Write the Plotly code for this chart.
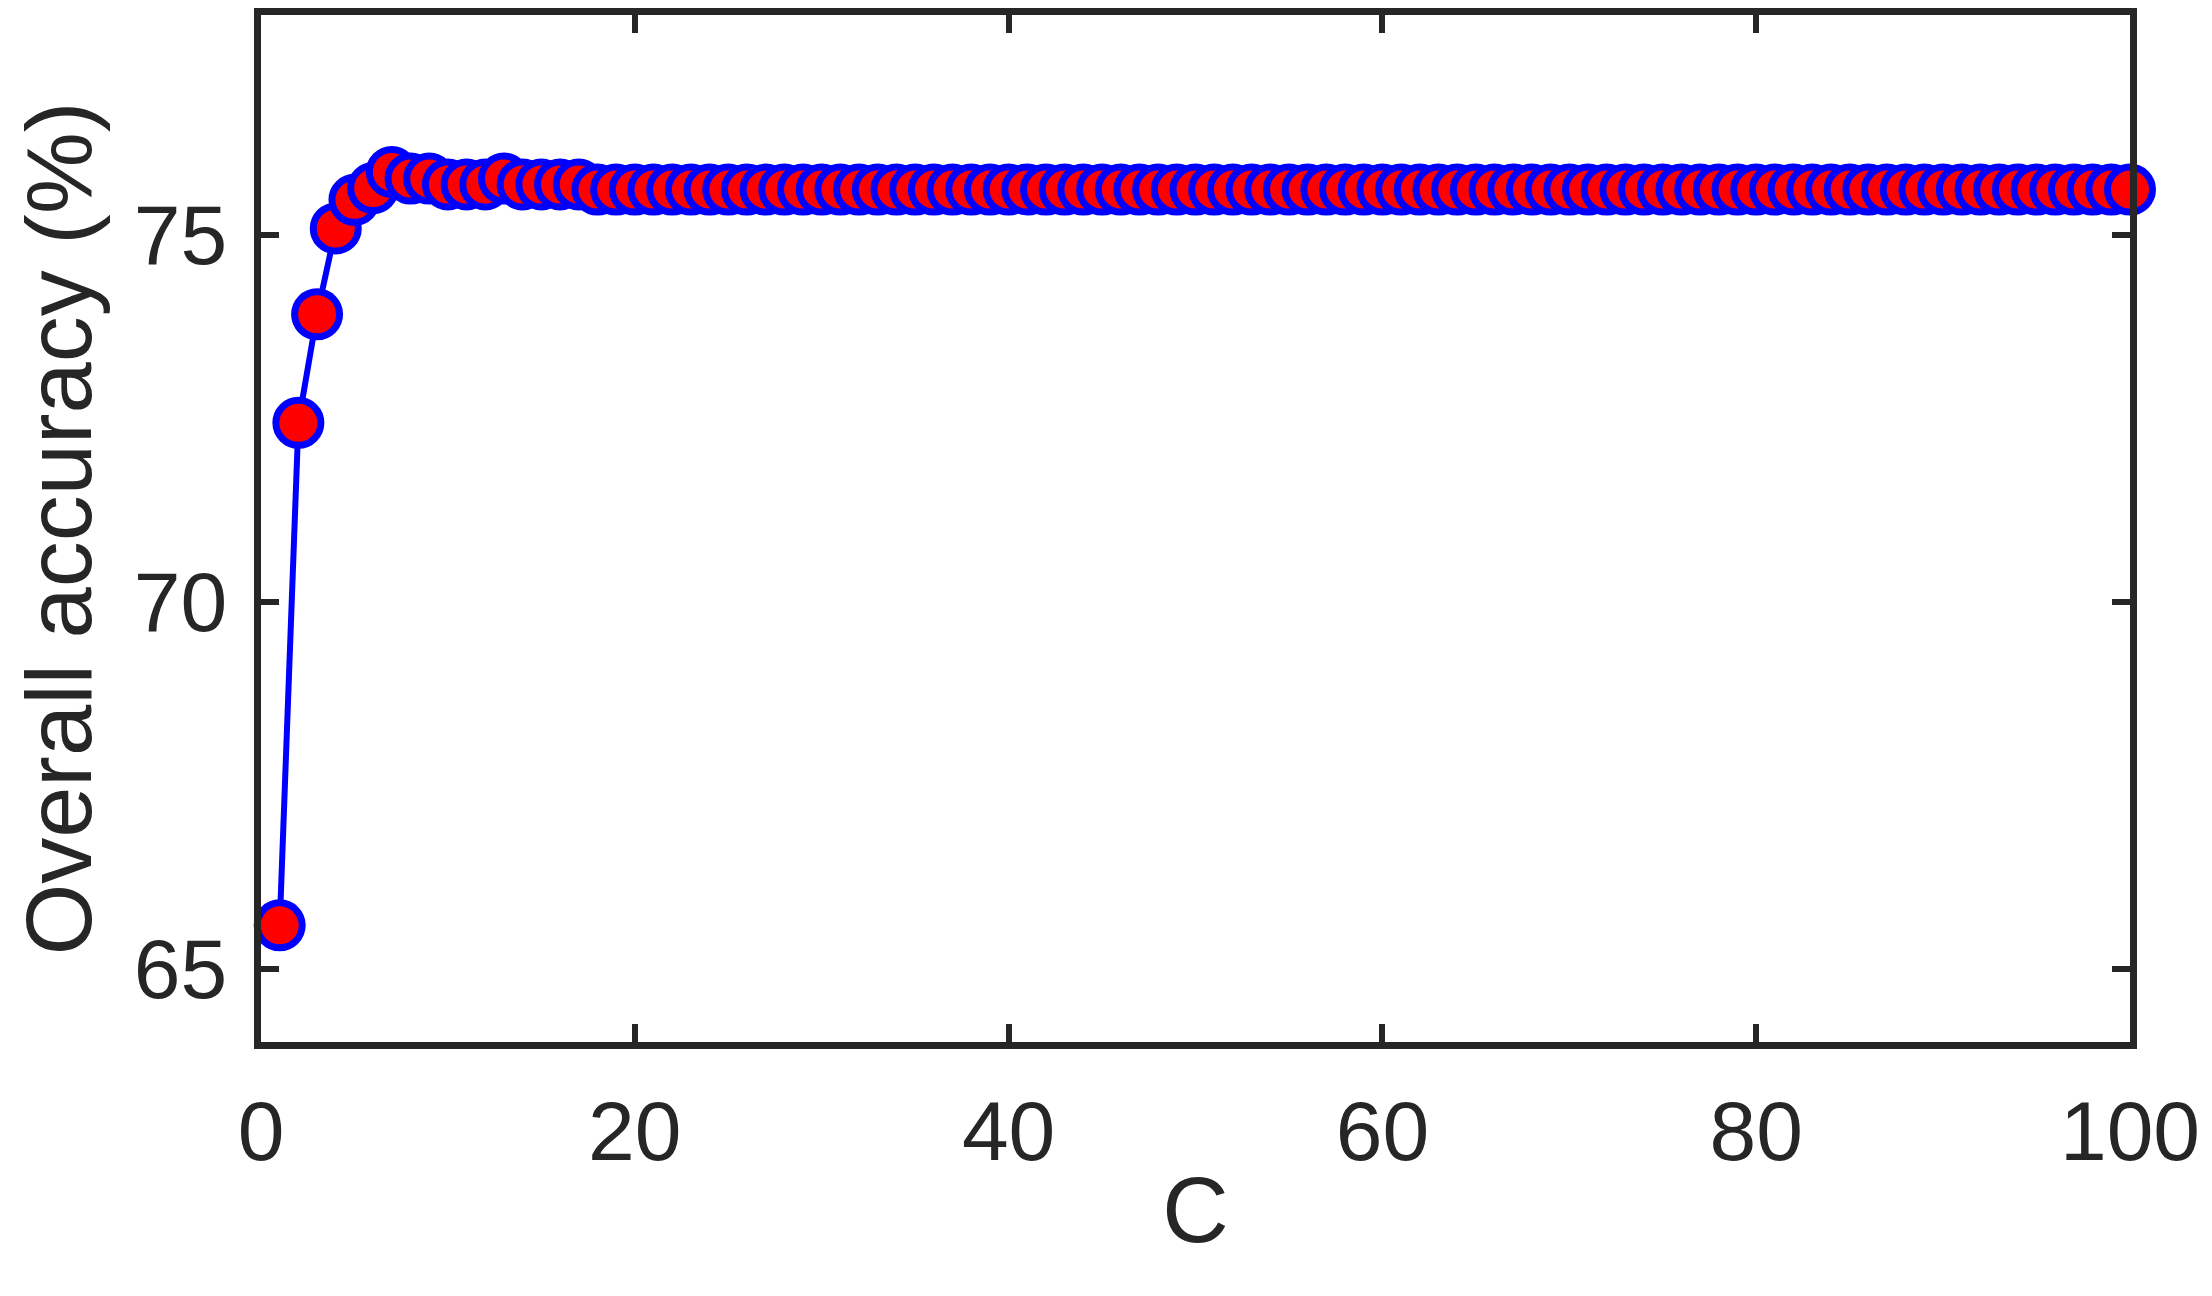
import plotly.graph_objects as go

C_values = list(range(1, 101))
accuracy = [
    65.59, 72.44, 73.92, 75.09, 75.48, 75.64, 75.86, 75.77, 75.77, 75.69,
    75.69, 75.69, 75.77, 75.69, 75.69, 75.69, 75.69, 75.62, 75.62, 75.62,
    75.62, 75.62, 75.62, 75.62, 75.62, 75.62, 75.62, 75.62, 75.62, 75.62,
    75.62, 75.62, 75.62, 75.62, 75.62, 75.62, 75.62, 75.62, 75.62, 75.62,
    75.62, 75.62, 75.62, 75.62, 75.62, 75.62, 75.62, 75.62, 75.62, 75.62,
    75.62, 75.62, 75.62, 75.62, 75.62, 75.62, 75.62, 75.62, 75.62, 75.62,
    75.62, 75.62, 75.62, 75.62, 75.62, 75.62, 75.62, 75.62, 75.62, 75.62,
    75.62, 75.62, 75.62, 75.62, 75.62, 75.62, 75.62, 75.62, 75.62, 75.62,
    75.62, 75.62, 75.62, 75.62, 75.62, 75.62, 75.62, 75.62, 75.62, 75.62,
    75.62, 75.62, 75.62, 75.62, 75.62, 75.62, 75.62, 75.62, 75.62, 75.62,
]
x_ticks = [0, 20, 40, 60, 80, 100]
y_ticks = [65, 70, 75]
x_title = "C"
y_title = "Overall accuracy (%)"

AX = "#262626"
FONT = "Liberation Sans, Arial, Helvetica, sans-serif"

fig = go.Figure()
fig.add_trace(go.Scatter(
    x=C_values, y=accuracy, mode="lines+markers",
    line=dict(color="#0000FF", width=6),
    marker=dict(symbol="circle", size=45, color="#FF0000",
                line=dict(color="#0000FF", width=7)),
    cliponaxis=False, showlegend=False,
))

axis_common = dict(
    showline=True, linecolor=AX, linewidth=7, mirror="ticks",
    ticks="inside", ticklen=18, tickwidth=6, tickcolor=AX,
    showgrid=False, zeroline=False,
    tickfont=dict(family=FONT, size=84, color=AX),
    title_font=dict(family=FONT, size=92, color=AX),
    automargin=False,
)

fig.update_layout(
    width=2204, height=1288,
    margin=dict(l=253, r=82, t=7, b=254),
    paper_bgcolor="white", plot_bgcolor="white",
    font=dict(family=FONT, color=AX),
    xaxis=dict(range=[0, 100], tickvals=x_ticks, ticktext=[str(v) for v in x_ticks],
               title=dict(text=x_title, standoff=3), ticklabelstandoff=10,
               **axis_common),
    yaxis=dict(range=[64, 78], tickvals=y_ticks, ticktext=[str(v) for v in y_ticks],
               title=dict(text=y_title, standoff=39), ticklabelstandoff=10,
               **axis_common),
)

fig.write_html("out.html")
